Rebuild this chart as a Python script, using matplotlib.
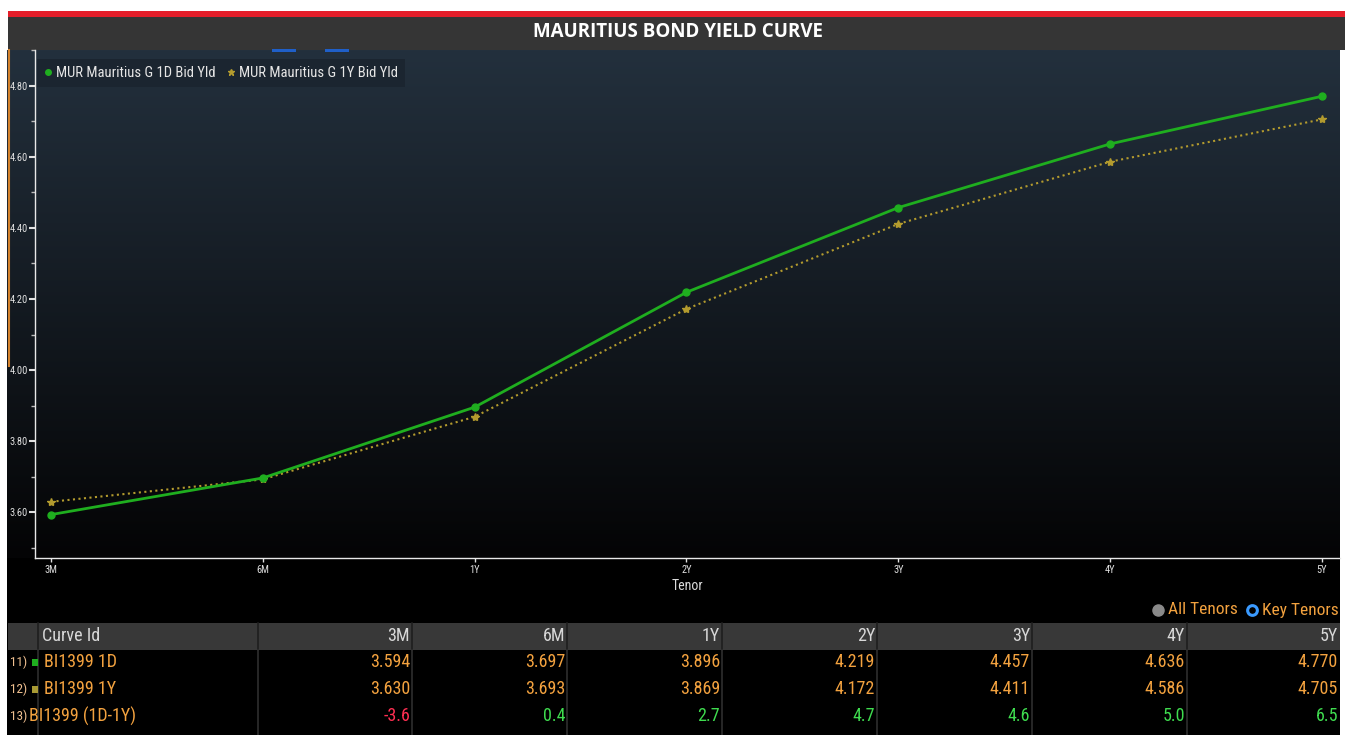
import numpy as np
import matplotlib
matplotlib.use("Agg")
import matplotlib.pyplot as plt
from matplotlib.lines import Line2D
from matplotlib.patches import Rectangle

# curve data (yields in %, spread in bp)
tenors = ['3M', '6M', '1Y', '2Y', '3Y', '4Y', '5Y']
yld_1d = [3.594, 3.697, 3.896, 4.219, 4.457, 4.636, 4.770]
yld_1y = [3.630, 3.693, 3.869, 4.172, 4.411, 4.586, 4.705]
spread_bp = [-3.6, 0.4, 2.7, 4.7, 4.6, 5.0, 6.5]
row_ids = ['11)', '12)', '13)']
row_names = ['BI1399 1D', 'BI1399 1Y', 'BI1399 (1D-1Y)']

NARROW = ['Roboto Condensed', 'PT Sans Narrow', 'DejaVu Sans']
W, H = 1345, 735
GREEN = '#1fae1f'
GOLD = '#b39b2e'
ORANGE = '#f3a23f'

fig = plt.figure(figsize=(W / 100, H / 100), dpi=100, facecolor='white')

# overlay in pixel coords for the panels and the table
bg = fig.add_axes([0, 0, 1, 1])
bg.set_xlim(0, W)
bg.set_ylim(H, 0)
bg.axis('off')

bg.add_patch(Rectangle((8, 11), W - 8, 6, color='#e41e2a', lw=0))
bg.add_patch(Rectangle((8, 17), W - 8, 33, color='#353535', lw=0))
bg.text(678, 32, 'MAURITIUS BOND YIELD CURVE', color='white', fontsize=13.5,
        fontweight='bold', family=['Open Sans', 'DejaVu Sans'], ha='center', va='center')
bg.add_patch(Rectangle((7, 50), 1333, H - 50, color='black', lw=0))

# gradient behind the chart
grad = np.linspace(0, 1, 256).reshape(-1, 1)
top = np.array([0x23, 0x30, 0x3d]) / 255
bot = np.array([0x04, 0x04, 0x05]) / 255
img = top[None, None, :] * (1 - grad[:, :, None]) + bot[None, None, :] * grad[:, :, None]
bg.imshow(img, extent=[7, 1340, 558, 50], aspect='auto', zorder=1)
bg.plot([9, 9], [50, 366], color='#d4822c', lw=1.5, zorder=2)
for x0 in (272, 325):
    bg.add_patch(Rectangle((x0, 49), 24, 3, color='#1f5fc8', lw=0, zorder=2))

# chart
ax = fig.add_axes([35 / W, (H - 558) / H, (1340 - 35) / W, (558 - 50) / H])
ax.set_facecolor('none')
xs = np.arange(len(tenors))
ax.plot(xs, yld_1d, color=GREEN, lw=2, marker='o', ms=5, zorder=4)
ax.plot(xs, yld_1y, color=GOLD, lw=1.5, ls=':', marker='*', ms=6, zorder=3)
ax.set_xlim(-0.0755, 6.085)
ax.set_ylim(3.472, 4.886)
ax.set_xticks(xs)
ax.set_xticklabels(tenors)
ax.set_yticks([3.6, 3.8, 4.0, 4.2, 4.4, 4.6, 4.8])
ax.set_yticklabels(['%.2f' % v for v in ax.get_yticks()])
ax.set_yticks(np.arange(3.5, 4.9, 0.1), minor=True)
for s in ('top', 'right'):
    ax.spines[s].set_visible(False)
for s in ('left', 'bottom'):
    ax.spines[s].set_color('#e8e8e8')
    ax.spines[s].set_linewidth(1)
ax.tick_params(axis='y', colors='#e0e0e0', labelsize=7.5, length=4, width=1.5, pad=1)
ax.tick_params(axis='y', which='minor', colors='#bbbbbb', length=3, width=1)
ax.tick_params(axis='x', colors='#e0e0e0', labelsize=7.5, length=3, width=1, pad=2)
for lb in ax.get_xticklabels() + ax.get_yticklabels():
    lb.set_family(NARROW)
ax.set_xlabel('Tenor', color='#dcdcdc', fontsize=10, family=NARROW, labelpad=3)

handles = [Line2D([], [], color=GREEN, marker='o', ls='none', ms=4),
           Line2D([], [], color=GOLD, marker='*', ls='none', ms=5)]
leg = ax.legend(handles, ['MUR Mauritius G 1D Bid Yld', 'MUR Mauritius G 1Y Bid Yld'],
                loc='upper left', bbox_to_anchor=(-0.004, 0.997), ncol=2, frameon=True,
                fancybox=False, facecolor='#1b2530', edgecolor='none', framealpha=1,
                handlelength=0.5, handletextpad=0.3, columnspacing=0.8, borderpad=0.5,
                prop={'family': NARROW, 'size': 10.5})
for t in leg.get_texts():
    t.set_color('#e6e6e6')

# key tenors selector
bg.plot(1158, 610, 'o', color='#8a8a8a', ms=8, zorder=3)
bg.text(1168, 610, 'All Tenors', color=ORANGE, fontsize=12.5, family=NARROW, va='center', zorder=3)
bg.plot(1252, 610, 'o', mfc='none', mec='#3a9aff', mew=2.2, ms=7, zorder=3)
bg.text(1262, 610, 'Key Tenors', color=ORANGE, fontsize=12.5, family=NARROW, va='center', zorder=3)

# table
edges = [8, 38, 258, 412, 567, 722, 877, 1032, 1187, 1340]
bg.add_patch(Rectangle((8, 623), 1332, 27, color='#383838', lw=0, zorder=3))
for e in edges[1:-1]:
    bg.plot([e, e], [623, 650], color='#1e1e1e', lw=1.2, zorder=4)
    bg.plot([e, e], [650, H], color='#2e2e2e', lw=1.2, zorder=4)
bg.text(42, 636, 'Curve Id', color='#d8d8d8', fontsize=13, family=NARROW,
        va='center', zorder=5)
for i, t in enumerate(tenors):
    bg.text(edges[i + 3] - 2, 636, t, color='#d8d8d8', fontsize=13, family=NARROW,
            ha='right', va='center', zorder=5)

row_y = [662, 689, 716]
rows = [['%.3f' % v for v in yld_1d], ['%.3f' % v for v in yld_1y],
        ['%.1f' % v for v in spread_bp]]
for r in range(3):
    y = row_y[r]
    bg.text(10, y, row_ids[r], color='#f0c090', fontsize=9.5, family=NARROW,
            va='center', zorder=5)
    if r < 2:
        bg.add_patch(Rectangle((32, y - 3.5), 6, 7, color=[GREEN, '#a89a34'][r],
                               lw=0, zorder=5))
        nx = 44
    else:
        nx = 29
    bg.text(nx, y, row_names[r], color=ORANGE, fontsize=13, family=NARROW,
            va='center', zorder=5)
    for i, s in enumerate(rows[r]):
        if r == 2:
            c = '#ff2f52' if spread_bp[i] < 0 else '#3fdc4f'
        else:
            c = ORANGE
        bg.text(edges[i + 3] - 2, y, s, color=c, fontsize=13, family=NARROW,
                ha='right', va='center', zorder=5)

fig.savefig('out.png', dpi=100, facecolor=fig.get_facecolor())
